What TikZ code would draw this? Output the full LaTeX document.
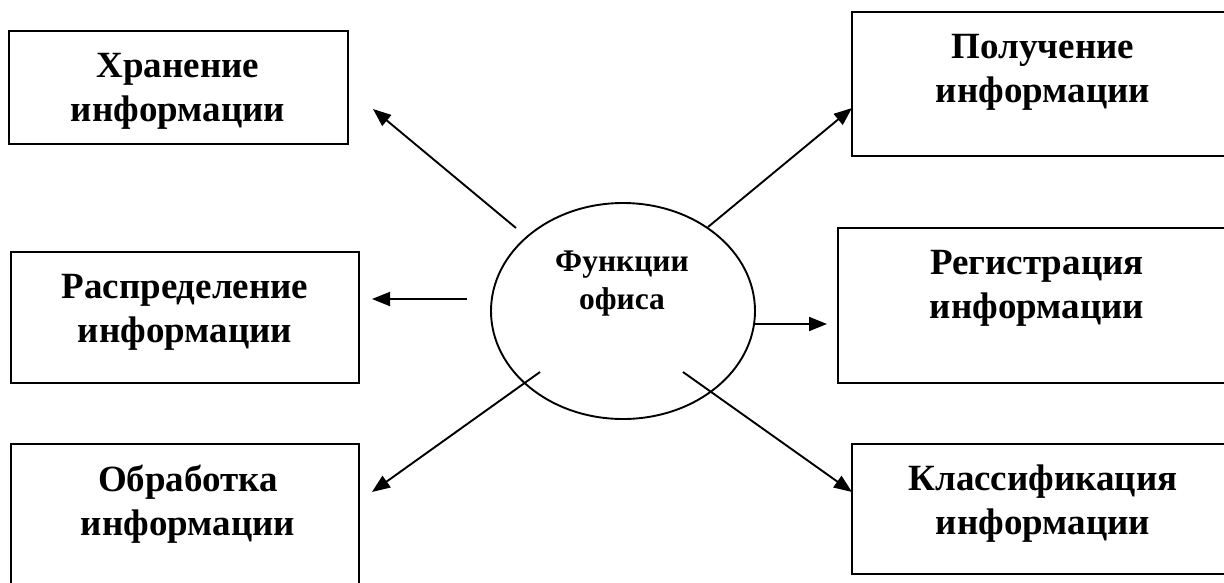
\documentclass[tikz,border=0pt]{standalone}
\usepackage{fontspec}
\setmainfont{Liberation Serif}
\usetikzlibrary{arrows.meta,shapes.geometric}
\begin{document}
\begin{tikzpicture}[x=1pt,y=-1pt,
  box/.style={draw, line width=1.9pt, rectangle, inner sep=0pt},
  lbl/.style={align=center, font=\fontsize{37}{44}\selectfont\bfseries, inner sep=0pt},
  clbl/.style={align=center, font=\fontsize{31.5}{38}\selectfont\bfseries, inner sep=0pt},
  arr/.style={line width=1.9pt, -{Triangle[length=18pt,width=14pt]}},
]
\useasboundingbox (0,0) rectangle (1224,582);
\clip (0,0) rectangle (1224,582);
\fill[white] (0,0) rectangle (1224,582);

% boxes
\node[box, minimum width=339pt, minimum height=113pt] (b1) at (178.5,87.5) {};
\node[box, minimum width=348pt, minimum height=131pt] (b2) at (185,317.5) {};
\node[box, minimum width=348pt, minimum height=160pt] (b3) at (185,524) {};
\node[box, minimum width=388pt, minimum height=144pt] (b4) at (1046,84) {};
\node[box, minimum width=402pt, minimum height=155pt] (b5) at (1039,305.5) {};
\node[box, minimum width=388pt, minimum height=130pt] (b6) at (1046,509) {};

% labels
\node[lbl] (t1) at (178,91) {Хранение\\информации};
\node[lbl] (t2) at (185,312) {Распределение\\информации};
\node[lbl] (t3) at (188,504) {Обработка\\информации};
\node[lbl] (t4) at (1043,72) {Получение\\информации};
\node[lbl] (t5) at (1037,288) {Регистрация\\информации};
\node[lbl] (t6) at (1043,504) {Классификация\\информации};

% ellipse
\node[draw, ellipse, line width=1.9pt, minimum width=264pt, minimum height=216pt, inner sep=0pt] (office) at (623,311) {};
\node[clbl] (officelbl) at (622,284) {Функции\\офиса};

% arrow ends
\coordinate (s1) at (516,228); \coordinate (e1) at (373,109);
\coordinate (s2) at (467,299); \coordinate (e2) at (372,299);
\coordinate (s3) at (540,372); \coordinate (e3) at (372,492);
\coordinate (s4) at (708,227); \coordinate (e4) at (852,108);
\coordinate (s5) at (755,324); \coordinate (e5) at (827,324);
\coordinate (s6) at (683,372); \coordinate (e6) at (852,492);

\draw[arr] (s1) -- (e1);
\draw[arr] (s2) -- (e2);
\draw[arr] (s3) -- (e3);
\draw[arr] (s4) -- (e4);
\draw[arr] (s5) -- (e5);
\draw[arr] (s6) -- (e6);
\end{tikzpicture}
\end{document}
